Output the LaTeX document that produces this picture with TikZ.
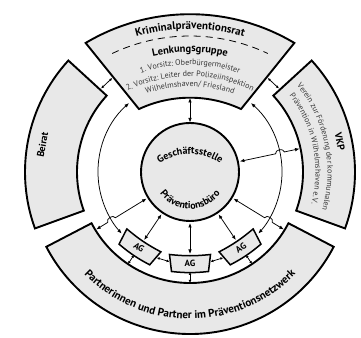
\documentclass[tikz,border=0pt]{standalone}
\usepackage{fontspec}
\setmainfont{PT Sans}
\usetikzlibrary{arrows.meta,decorations.text,calc}
\definecolor{boxfill}{RGB}{232,232,232}
\definecolor{txtgray}{RGB}{55,55,55}
\begin{document}
\begin{tikzpicture}[x=1pt,y=1pt,
  box/.style={draw=black, line width=1.9pt, fill=boxfill, line join=miter},
  conn/.style={line width=0.75pt, {Latex[length=4.5pt,width=3.6pt]}-{Latex[length=4.5pt,width=3.6pt]}},
  smallconn/.style={line width=0.75pt, {Latex[length=3pt,width=2.8pt]}-{Latex[length=3pt,width=2.8pt]}},
  agbox/.style={draw=black, line width=1.5pt, fill=boxfill},
  aglabel/.style={font=\fontsize{9}{10}\selectfont\bfseries, transform shape, inner sep=0pt},
  sidelabel/.style={font=\fontsize{10}{11}\selectfont\bfseries, inner sep=0pt}
]
\useasboundingbox (0,0) rectangle (361,337);
\fill[white] (0,0) rectangle (361,337);
\coordinate (C) at (190,165);
\coordinate (T) at (190,119);

% ---- outer boxes
\draw[box] ($(T)+(120.8:203.8)$) arc[start angle=120.8, end angle=59.2, radius=203.8]
  -- ($(T)+(64.9:120.3)$) arc[start angle=64.9, end angle=115.1, radius=120.3] -- cycle;
\draw[dashed, dash pattern=on 7pt off 5pt, line width=0.8pt]
  ($(T)+(115.3:182)$) arc[start angle=115.3, end angle=64.7, radius=182];
\draw[box] ($(C)+(137.5:165)$) arc[start angle=137.5, end angle=200, radius=165]
  -- ($(C)+(200:113)$) arc[start angle=200, end angle=137.5, radius=113] -- cycle;
\draw[box] ($(C)+(42.5:165)$) arc[start angle=42.5, end angle=-20, radius=165]
  -- ($(C)+(-20:113)$) arc[start angle=-20, end angle=42.5, radius=113] -- cycle;
\draw[box] ($(C)+(207.5:162)$) arc[start angle=207.5, end angle=332.5, radius=162]
  -- ($(C)+(332.5:111)$) arc[start angle=332.5, end angle=207.5, radius=111] -- cycle;

% ---- centre
\draw[line width=1.9pt, fill=boxfill] (C) circle[radius=49];

% ---- texts in the top box
\path[decorate, decoration={text along path, text align=center,
  text={|\fontsize{11}{12}\selectfont\bfseries|Kriminalpräventionsrat}}]
  ($(T)+(125:189)$) arc[start angle=125, end angle=55, radius=189];
\path[decorate, decoration={text along path, text align=center,
  text={|\fontsize{10.5}{12}\selectfont\bfseries|Lenkungsgruppe}}]
  ($(T)+(122:166)$) arc[start angle=122, end angle=58, radius=166];
\path[decorate, decoration={text along path, text align=center, text color=txtgray,
  text={|\fontsize{8}{9}\selectfont|1. Vorsitz: Oberbürgermeister}}]
  ($(T)+(120:153)$) arc[start angle=120, end angle=60, radius=153];
\path[decorate, decoration={text along path, text align=center, text color=txtgray,
  text={|\fontsize{8}{9}\selectfont|2. Vorsitz: Leiter der Polizeiinspektion}}]
  ($(T)+(120:141.5)$) arc[start angle=120, end angle=60, radius=141.5];
\path[decorate, decoration={text along path, text align=center, text color=txtgray,
  text={|\fontsize{8}{9}\selectfont|Wilhelmshaven/ Friesland}}]
  ($(T)+(120:131.5)$) arc[start angle=120, end angle=60, radius=131.5];

% ---- side and bottom texts
\node[sidelabel, rotate=79.5] (beirat) at ($(C)+(169.5:150)$) {Beirat};
\node[sidelabel, rotate=-78.5] (vkp) at ($(C)+(11.5:153)$) {VKP};
\path[decorate, decoration={text along path, text align=center, text color=txtgray,
  text={|\fontsize{8}{9}\selectfont|Verein zur Förderung der kommunalen}}]
  ($(C)+(45:137.5)$) arc[start angle=45, end angle=-22, radius=137.5];
\path[decorate, decoration={text along path, text align=center, text color=txtgray,
  text={|\fontsize{8}{9}\selectfont|Prävention in Wilhelmshaven e.V.}}]
  ($(C)+(45:125.5)$) arc[start angle=45, end angle=-22, radius=125.5];
\path[decorate, decoration={text along path, text align=center,
  text={|\fontsize{11}{12}\selectfont\bfseries|Partnerinnen und Partner im Präventionsnetzwerk}}]
  ($(C)+(215:147)$) arc[start angle=215, end angle=325, radius=147];

% ---- centre texts
\coordinate (G) at (190,131);
\path[decorate, decoration={text along path, text align=center,
  text={|\fontsize{10}{11}\selectfont\bfseries|Geschäftsstelle}}]
  ($(G)+(135:52)$) arc[start angle=135, end angle=45, radius=52];
\path[decorate, decoration={text along path, text align=center,
  text={|\fontsize{10}{11}\selectfont\bfseries|Präventionsbüro}}]
  ($(C)+(190:37)$) arc[start angle=190, end angle=350, radius=37];

% ---- AG boxes
\foreach \a/\n in {236/l, 270/m, 304/r}{
  \begin{scope}[shift={($(C)+(\a:91)$)}, rotate=\a-270]
    \draw[agbox] (-20.5,8.5) to[bend right=6] (20.5,8.5) -- (18.5,-8.5) to[bend left=6] (-18.5,-8.5) -- cycle;
    \node[aglabel] (ag\n) at (0,0) {AG};
  \end{scope}
  \coordinate (ag\n-in) at ($(C)+(\a:51)$);
  \coordinate (ag\n-top) at ($(C)+(\a:82)$);
  \coordinate (ag\n-bot) at ($(C)+(\a:100)$);
  \coordinate (ag\n-out) at ($(C)+(\a:111)$);
  \draw[conn] (ag\n-in) -- (ag\n-top);
  \draw[smallconn] (ag\n-bot) -- (ag\n-out);
}
\coordinate (lm1) at ($(C)+(248.8:92)$);
\coordinate (lm2) at ($(C)+(257.2:92)$);
\coordinate (mr1) at ($(C)+(282.8:92)$);
\coordinate (mr2) at ($(C)+(291.2:92)$);
\draw[smallconn] (lm1) -- (lm2);
\draw[smallconn] (mr1) -- (mr2);

% ---- thin ring arcs
\coordinate (ringL1) at ($(C)+(131.5:92)$);
\coordinate (ringR1) at ($(C)+(48.5:92)$);
\draw[conn] (ringL1) arc[start angle=131.5, end angle=222, radius=92];
\draw[conn] (ringR1) arc[start angle=48.5, end angle=-42, radius=92];

% ---- top box to centre
\coordinate (topin) at (190,239);
\coordinate (ctop) at (190,214.5);
\draw[conn] (topin) -- (ctop);

% ---- small arrows between top box and side boxes
\coordinate (bl1) at ($(C)+(136.8:122)$);
\coordinate (bl2) at ($(C)+(129.6:122)$);
\coordinate (vr1) at ($(C)+(43.2:122)$);
\coordinate (vr2) at ($(C)+(50.4:122)$);
\draw[smallconn] (bl1) -- (bl2);
\draw[smallconn] (vr1) -- (vr2);

% ---- connectors with hops
\coordinate (vkA) at ($(C)+(12:51)$);
\coordinate (vkB) at ($(C)+(12:87.5)$);
\coordinate (vkC) at ($(C)+(12:96.5)$);
\coordinate (vkD) at ($(C)+(12:112)$);
\draw[conn] (vkA) -- (vkB) to[bend left=90, looseness=1.2] (vkC) -- (vkD);
\coordinate (llA) at ($(C)+(211.5:51)$);
\coordinate (llB) at ($(C)+(211.5:87.5)$);
\coordinate (llC) at ($(C)+(211.5:96.5)$);
\coordinate (llD) at ($(C)+(211.5:110)$);
\draw[conn] (llA) -- (llB) to[bend right=90, looseness=1.2] (llC) -- (llD);
\coordinate (lrA) at ($(C)+(328.5:51)$);
\coordinate (lrB) at ($(C)+(328.5:87.5)$);
\coordinate (lrC) at ($(C)+(328.5:96.5)$);
\coordinate (lrD) at ($(C)+(328.5:110)$);
\draw[conn] (lrA) -- (lrB) to[bend left=90, looseness=1.2] (lrC) -- (lrD);
\end{tikzpicture}
\end{document}
